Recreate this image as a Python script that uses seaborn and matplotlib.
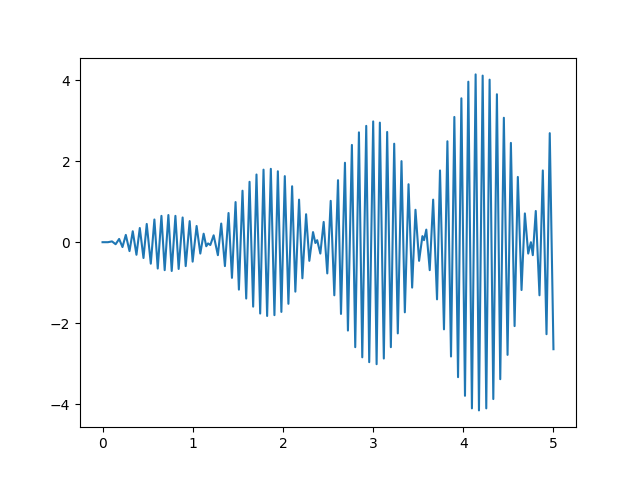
import matplotlib
matplotlib.use("Agg")
import matplotlib.pyplot as plt
import seaborn as sns
import numpy as np

# turning points (time, value)
t_vals = [0.0, 0.06, 0.105, 0.145, 0.184, 0.221, 0.258, 0.299, 0.335, 0.376,
          0.413, 0.454, 0.49, 0.535, 0.575, 0.612, 0.653, 0.689, 0.730, 0.767,
          0.808, 0.844, 0.888, 0.922, 0.966, 0.999, 1.043, 1.084, 1.121, 1.15,
          1.17, 1.195, 1.232, 1.279, 1.316, 1.357, 1.397, 1.435, 1.475, 1.512,
          1.552, 1.593, 1.630, 1.670, 1.707, 1.748, 1.785, 1.825, 1.866, 1.906,
          1.944, 1.983, 2.021, 2.061, 2.102, 2.138, 2.179, 2.216, 2.257, 2.293,
          2.334, 2.36, 2.38, 2.415, 2.452, 2.492, 2.530, 2.570, 2.611, 2.644,
          2.688, 2.721, 2.765, 2.802, 2.843, 2.880, 2.924, 2.957, 3.001, 3.039,
          3.075, 3.119, 3.156, 3.197, 3.234, 3.274, 3.315, 3.352, 3.393, 3.433,
          3.470, 3.510, 3.547, 3.565, 3.590, 3.628, 3.666, 3.709, 3.742, 3.786,
          3.824, 3.864, 3.901, 3.942, 3.979, 4.019, 4.056, 4.096, 4.137, 4.174,
          4.215, 4.255, 4.292, 4.333, 4.373, 4.410, 4.450, 4.491, 4.528, 4.569,
          4.605, 4.646, 4.683, 4.720, 4.750, 4.771, 4.804, 4.845, 4.882, 4.923,
          4.959, 5.000]
y_vals = [0.0, 0.0, 0.02, -0.05, 0.08, -0.12, 0.18, -0.22, 0.27, -0.31,
          0.35, -0.39, 0.45, -0.53, 0.56, -0.65, 0.65, -0.69, 0.67, -0.71,
          0.65, -0.66, 0.61, -0.59, 0.52, -0.48, 0.40, -0.28, 0.21, -0.10,
          -0.03, -0.07, 0.17, -0.32, 0.46, -0.59, 0.72, -0.88, 0.99, -1.17,
          1.27, -1.39, 1.49, -1.59, 1.67, -1.76, 1.79, -1.82, 1.81, -1.80,
          1.75, -1.72, 1.63, -1.52, 1.38, -1.22, 1.05, -0.89, 0.69, -0.46,
          0.25, -0.02, 0.05, -0.28, 0.50, -0.77, 1.02, -1.31, 1.53, -1.77,
          1.96, -2.18, 2.40, -2.59, 2.71, -2.84, 2.87, -2.96, 2.98, -3.01,
          2.95, -2.87, 2.72, -2.59, 2.43, -2.25, 2.00, -1.73, 1.43, -1.12,
          0.80, -0.46, 0.15, 0.05, 0.31, -0.69, 1.05, -1.41, 1.77, -2.15,
          2.49, -2.82, 3.09, -3.33, 3.55, -3.79, 3.96, -4.10, 4.14, -4.15,
          4.11, -4.10, 4.01, -3.87, 3.65, -3.38, 3.07, -2.78, 2.45, -2.07,
          1.61, -1.18, 0.71, -0.28, 0.00, -0.32, 0.77, -1.31, 1.77, -2.27,
          2.69, -2.64]

fig, ax = plt.subplots(figsize=(6.4, 4.8), dpi=100)
sns.lineplot(x=np.array(t_vals), y=np.array(y_vals), sort=False, estimator=None,
             color="#1f77b4", linewidth=1.5, ax=ax)
ax.set_xlabel("")
ax.set_ylabel("")
plt.savefig("out.png")
